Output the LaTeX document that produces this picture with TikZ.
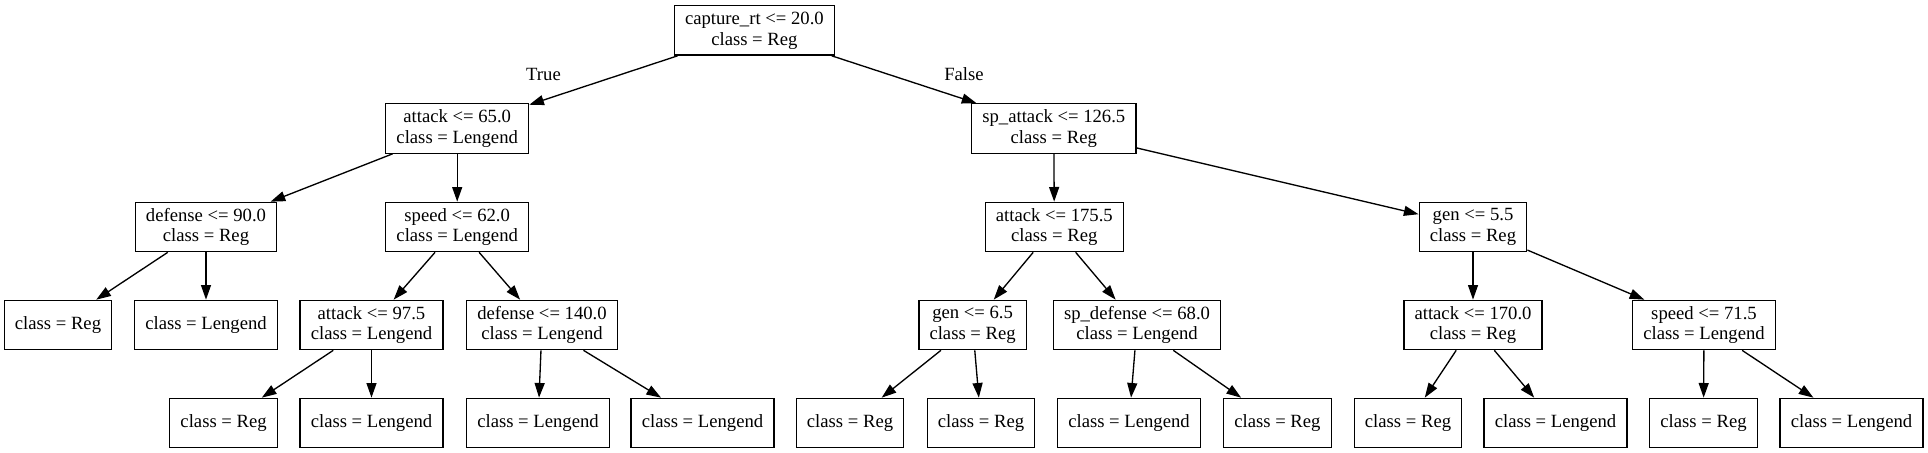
\documentclass[tikz,border=0pt]{standalone}
\usepackage{fontspec}
\setmainfont{Liberation Serif}
\usetikzlibrary{arrows.meta}

\begin{document}
\begin{tikzpicture}[
    x=0.75pt, y=-0.75pt,
    split/.style={
        rectangle,
        draw=black,
        line width=1pt,
        minimum height=37pt,
        minimum width=54pt,
        inner xsep=8pt,
        inner ysep=2pt,
        align=center,
        font=\fontsize{14}{15.5}\selectfont
    },
    leaf/.style={
        split
    },
    arrow/.style={
        -{Triangle[length=11pt,width=7.5pt]},
        line width=1pt
    },
    branch/.style={
        font=\fontsize{14}{15.5}\selectfont
    }
]

\useasboundingbox (0,0) rectangle (1928,453);

% Root
\node[split] (root) at (754.4,30.5) {capture\_rt <= 20.0\\class = Reg};

% Depth 1
\node[split] (att65) at (457.2,128.5) {attack <= 65.0\\class = Lengend};
\node[split] (spatk) at (1053.8,128.5) {sp\_attack <= 126.5\\class = Reg};

% Depth 2
\node[split] (def90) at (206,227) {defense <= 90.0\\class = Reg};
\node[split] (spd62) at (457.2,227) {speed <= 62.0\\class = Lengend};
\node[split] (att175) at (1054.3,227) {attack <= 175.5\\class = Reg};
\node[split] (gen55) at (1473,227) {gen <= 5.5\\class = Reg};

% Depth 3
\node[leaf] (leafa) at (58,325) {class = Reg};
\node[leaf] (leafb) at (206,325) {class = Lengend};
\node[split] (att97) at (371.5,325) {attack <= 97.5\\class = Lengend};
\node[split] (def140) at (542,325) {defense <= 140.0\\class = Lengend};
\node[split] (gen65) at (972.6,325) {gen <= 6.5\\class = Reg};
\node[split] (spdef68) at (1137,325) {sp\_defense <= 68.0\\class = Lengend};
\node[split] (att170) at (1473,325) {attack <= 170.0\\class = Reg};
\node[split] (spd715) at (1704,325) {speed <= 71.5\\class = Lengend};

% Depth 4
\node[leaf] (leafc) at (223.6,423) {class = Reg};
\node[leaf] (leafd) at (371.5,423) {class = Lengend};
\node[leaf] (leafe) at (538,423) {class = Lengend};
\node[leaf] (leaff) at (702.5,423) {class = Lengend};
\node[leaf] (leafg) at (850,423) {class = Reg};
\node[leaf] (leafh) at (981,423) {class = Reg};
\node[leaf] (leafi) at (1129,423) {class = Lengend};
\node[leaf] (leafj) at (1277.4,423) {class = Reg};
\node[leaf] (leafk) at (1408,423) {class = Reg};
\node[leaf] (leafl) at (1555.5,423) {class = Lengend};
\node[leaf] (leafm) at (1703.5,423) {class = Reg};
\node[leaf] (leafn) at (1851.5,423) {class = Lengend};

% Branch labels
\node[branch] (truelbl) at (543.5,74) {True};
\node[branch] (falselbl) at (964,74) {False};

% Connections
\draw[arrow] (root) -- (att65);
\draw[arrow] (root) -- (spatk);

\draw[arrow] (att65) -- (def90);
\draw[arrow] (att65) -- (spd62);
\draw[arrow] (spatk) -- (att175);
\draw[arrow] (spatk) -- (gen55);

\draw[arrow] (def90) -- (leafa);
\draw[arrow] (def90) -- (leafb);
\draw[arrow] (spd62) -- (att97);
\draw[arrow] (spd62) -- (def140);
\draw[arrow] (att175) -- (gen65);
\draw[arrow] (att175) -- (spdef68);
\draw[arrow] (gen55) -- (att170);
\draw[arrow] (gen55) -- (spd715);

\draw[arrow] (att97) -- (leafc);
\draw[arrow] (att97) -- (leafd);
\draw[arrow] (def140) -- (leafe);
\draw[arrow] (def140) -- (leaff);
\draw[arrow] (gen65) -- (leafg);
\draw[arrow] (gen65) -- (leafh);
\draw[arrow] (spdef68) -- (leafi);
\draw[arrow] (spdef68) -- (leafj);
\draw[arrow] (att170) -- (leafk);
\draw[arrow] (att170) -- (leafl);
\draw[arrow] (spd715) -- (leafm);
\draw[arrow] (spd715) -- (leafn);

\end{tikzpicture}
\end{document}
